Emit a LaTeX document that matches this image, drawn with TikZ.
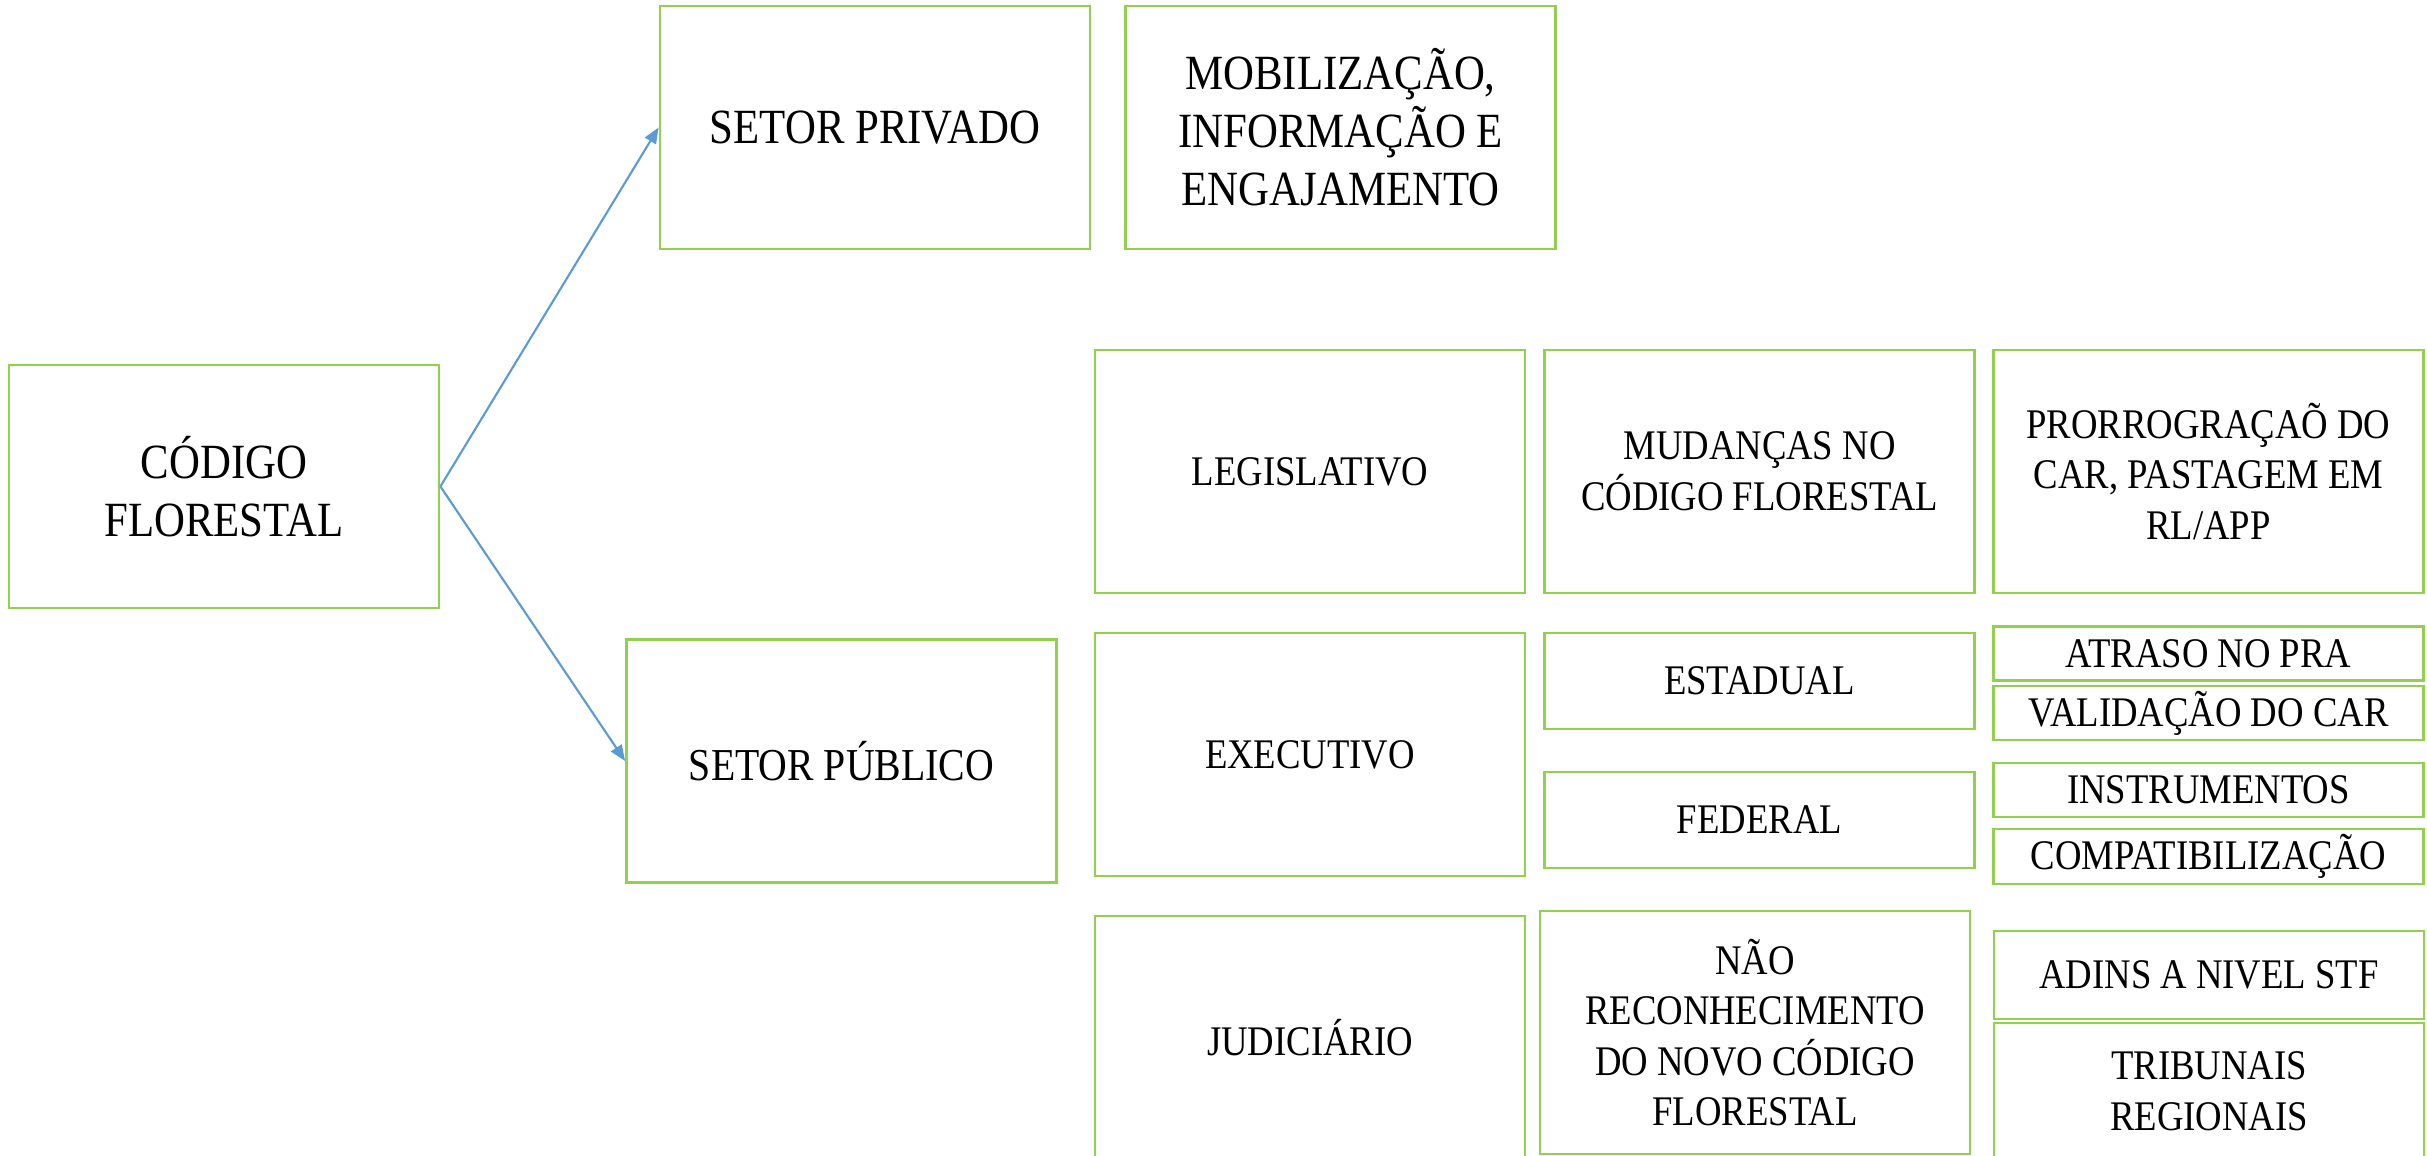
\documentclass[tikz,border=0pt]{standalone}
\usepackage{fontspec}
\setmainfont{Liberation Serif}[FakeStretch=0.87]
\usetikzlibrary{arrows.meta, positioning}
\definecolor{boxgreen}{RGB}{146,208,80}
\definecolor{arrowblue}{RGB}{91,155,213}
\tikzstyle{process} = [rectangle, minimum width=4.3cm, minimum height=2.43cm, inner sep=0pt, text centered, align=center, draw=boxgreen, line width=0.8pt, font=\fontsize{12}{14.4}\selectfont]
\tikzstyle{bigtext} = [font=\fontsize{14}{16.5}\selectfont]
\tikzstyle{link} = [draw=arrowblue, line width=0.6pt, -{Triangle[length=4.5pt, width=3.6pt]}]

\begin{document}
\begin{tikzpicture}[node distance=0cm]
\useasboundingbox (0,0) rectangle (24.27,11.56);
\node (h1) [process, bigtext] at (2.24,6.695) {CÓDIGO\\FLORESTAL};
\node (h2) [process, bigtext, right of=h1, xshift=6.51cm, yshift=3.59cm] {SETOR PRIVADO};
\node (h3) [process, bigtext, right of=h2, xshift=4.655cm] {MOBILIZAÇÃO,\\INFORMAÇÃO E\\ENGAJAMENTO};
\node (h4) [process, right of=h1, xshift=6.175cm, yshift=-2.745cm, font=\fontsize{13}{15.6}\selectfont] {SETOR PÚBLICO};
% poderes
\node (h5) [process, right of=h1, xshift=10.86cm, yshift=0.15cm] {LEGISLATIVO};
\node (h6) [process, right of=h5, xshift=4.495cm] {MUDANÇAS NO\\CÓDIGO FLORESTAL};
\node (h7) [process, right of=h6, xshift=4.49cm] {PRORROGRAÇAÕ DO\\CAR, PASTAGEM EM\\RL/APP};
\node (h8) [process, below of=h5, yshift=-2.83cm] {EXECUTIVO};
\node (h9) [process, right of=h8, xshift=4.495cm, yshift=0.735cm, minimum height=0.96cm] {ESTADUAL};
\node (h10) [process, right of=h8, xshift=4.495cm, yshift=-0.655cm, minimum height=0.96cm] {FEDERAL};
\node (h11) [process, right of=h9, xshift=4.49cm, yshift=0.275cm, minimum height=0.54cm] {ATRASO NO PRA};
\node (h12) [process, right of=h9, xshift=4.49cm, yshift=-0.32cm, minimum height=0.54cm] {VALIDAÇÃO DO CAR};
\node (h13) [process, right of=h10, xshift=4.49cm, yshift=0.30cm, minimum height=0.54cm] {INSTRUMENTOS};
\node (h14) [process, right of=h10, xshift=4.49cm, yshift=-0.365cm, minimum height=0.55cm] {COMPATIBILIZAÇÃO};
\node (h15) [process, below of=h8, yshift=-2.83cm] {JUDICIÁRIO};
\node (h16) [process, right of=h15, xshift=4.45cm, yshift=0.05cm] {NÃO\\RECONHECIMENTO\\DO NOVO CÓDIGO\\FLORESTAL};
\node (h17) [process, right of=h15, xshift=8.99cm, yshift=0.625cm, minimum height=0.88cm] {ADINS A NIVEL STF};
\node (h18) [process, below of=h17, yshift=-1.16cm, minimum height=1.36cm] {TRIBUNAIS\\REGIONAIS};
\draw[link] (h1.east) -- (h2.west);
\draw[link] (h1.east) -- (h4.west);
\end{tikzpicture}
\end{document}
